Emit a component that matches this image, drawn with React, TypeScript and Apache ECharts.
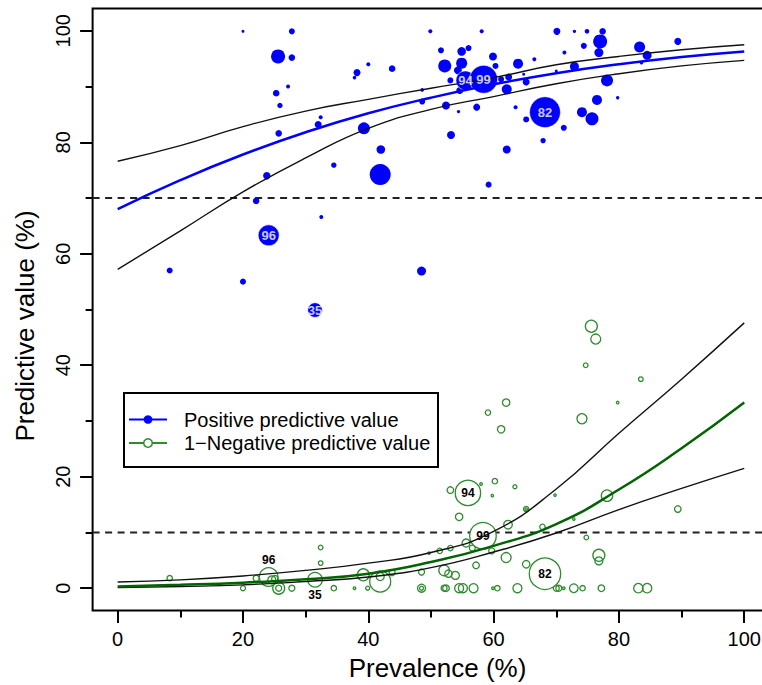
import React, { useEffect, useRef } from "react";
import * as echarts from "echarts";

// ---- Data ----
// Prevalence (%) at which the fitted curves were read
const curveX = [0, 10, 20, 30, 40, 50, 60, 70, 80, 90, 100];
// Positive predictive value fit and its confidence band (%)
const ppvFit = [68.0, 73.2, 77.8, 81.8, 85.2, 88.0, 90.4, 92.4, 94.0, 95.3, 96.3];
const ppvUpper = [76.6, 79.4, 82.8, 85.6, 87.7, 89.7, 91.6, 93.9, 95.4, 96.6, 97.5];
const ppvLower = [57.2, 64.1, 71.1, 77.2, 82.5, 85.9, 88.2, 90.5, 92.3, 93.7, 94.7];
// 1 - Negative predictive value fit and its band (%)
const npvFit = [0.3, 0.6, 1.0, 1.6, 2.6, 4.7, 7.6, 11.5, 17.7, 25.1, 33.3];
const npvUpper = [1.1, 1.5, 2.2, 3.2, 4.5, 6.4, 10.2, 17.8, 27.8, 37.5, 47.6];
const npvLower = [0.1, 0.3, 0.6, 1.2, 2.0, 3.7, 6.5, 9.9, 14.1, 17.9, 21.5];

// Reference lines (%)
const thresholds = [70, 10];

// Study points: [prevalence, PPV, relative study weight]
const ppvPoints: number[][] = [
  [20.0, 99.9, 1.5], [27.8, 99.9, 3], [25.6, 95.4, 7], [27.8, 95.2, 3.3], [40.0, 94.0, 2],
  [38.2, 92.5, 3.5], [37.8, 91.6, 1.8], [27.2, 90.0, 2], [25.3, 88.8, 3.3], [25.9, 86.6, 2.7],
  [32.4, 84.5, 2], [32.0, 83.2, 3.5], [39.3, 82.5, 6], [25.7, 81.6, 3.3], [42.0, 78.7, 4.3],
  [34.5, 75.9, 2.7], [41.9, 74.2, 10.5], [23.8, 74.0, 3.7], [22.1, 69.5, 3.3], [32.5, 66.6, 2],
  [8.3, 57.0, 3], [20.0, 55.0, 3],
  [49.9, 99.9, 2], [58.1, 99.9, 2], [70.1, 99.9, 3.5], [72.9, 99.9, 1.7], [74.9, 99.9, 2.3],
  [77.4, 99.9, 3.3], [77.0, 98.1, 7], [76.8, 96.1, 4.5], [74.4, 97.3, 3], [71.3, 96.1, 2],
  [83.3, 97.1, 5.5], [89.4, 98.1, 3.5], [84.5, 95.6, 4.5], [83.6, 94.3, 1.8],
  [51.6, 96.5, 3], [54.9, 96.3, 4.3], [56.0, 96.9, 3], [59.9, 95.4, 4], [43.8, 93.2, 3.3],
  [52.2, 93.7, 6.5], [54.9, 94.2, 5.5], [54.3, 92.9, 4], [60.3, 93.7, 3], [63.9, 94.1, 5],
  [66.5, 94.9, 2], [64.8, 92.2, 1.5], [48.6, 89.4, 1.8], [48.6, 87.3, 3], [53.1, 91.1, 3],
  [54.6, 89.3, 3.5], [62.4, 91.7, 3.5], [61.2, 91.3, 3], [62.1, 89.5, 5], [65.2, 90.8, 3.5],
  [70.0, 92.8, 1.5], [72.9, 93.6, 4.5], [78.1, 91.1, 6], [76.5, 87.6, 5], [79.8, 88.0, 1.7],
  [74.1, 85.4, 5], [75.7, 84.2, 6.5], [71.2, 82.6, 3], [65.2, 84.1, 3], [63.5, 86.3, 2],
  [57.3, 86.3, 3.5], [54.4, 85.5, 1.7], [52.4, 86.6, 4], [53.2, 81.3, 4], [62.1, 78.7, 4],
  [67.9, 80.3, 2.7], [59.2, 72.4, 3], [48.5, 56.9, 4.5],
];

// Study points: [prevalence, 1-NPV, relative study weight]
const npvPoints: number[][] = [
  [8.3, 1.8, 2.7], [20.0, 0, 2.5], [22.1, 1.8, 3], [25.1, 1.7, 3.3], [24.6, 1.5, 4],
  [25.7, 0, 6], [25.7, 0, 3], [27.8, 0, 3], [32.4, 7.3, 2.3], [32.4, 4.5, 2.3],
  [34.5, 0, 2.7], [37.8, 0, 1.3], [39.9, 0, 2], [39.2, 2.4, 6], [41.9, 1.2, 10.5],
  [41.9, 2.1, 4], [43.8, 2.8, 3], [48.5, 2.9, 3], [48.5, 0, 4], [48.5, 0, 2],
  [75.6, 47.0, 6], [76.3, 44.7, 5], [74.7, 40.0, 2.3], [83.5, 37.5, 2.3], [79.8, 33.3, 1.3],
  [62.0, 33.3, 3.7], [59.1, 31.5, 2.7], [61.2, 28.5, 3.7], [74.1, 30.4, 5], [53.1, 17.6, 3.3],
  [58.0, 18.7, 1.3], [60.2, 19.2, 2.7], [63.4, 18.2, 2], [59.8, 16.6, 1.2], [69.8, 16.7, 1.2],
  [78.1, 16.6, 5.7], [89.4, 14.2, 3.3], [65.2, 14.2, 2.7], [65.2, 14.2, 1.2], [54.5, 12.8, 3.7],
  [62.3, 11.4, 4.3], [67.8, 11.0, 2.7], [72.8, 12.4, 1.2], [74.8, 9.1, 2.3], [55.6, 8.1, 4],
  [49.7, 6.3, 1.2], [51.4, 6.7, 2.7], [53.1, 7.2, 2.7], [56.6, 7.2, 3], [59.7, 6.7, 3],
  [62.0, 5.5, 5], [57.2, 4.1, 3.3], [65.2, 4.3, 3.7], [76.8, 5.9, 6], [76.8, 4.9, 4],
  [52.1, 3.2, 5.3], [52.8, 2.6, 3.7], [53.9, 2.3, 4],
  [52.1, 0, 3], [52.4, 0, 3.3], [54.5, 0, 4.5], [55.1, 0, 4.5], [56.8, 0, 4.5], [59.9, 0, 1.3],
  [60.6, 0, 2.7], [63.8, 0, 4.5], [70.0, 0, 3], [70.4, 0, 3], [71.2, 0, 1.3], [72.8, 0, 4.3],
  [74.2, 0, 2.7], [77.2, 0, 3.3], [83.1, 0, 4.7], [84.5, 0, 4.7],
];

// Labelled studies
const studyLabels = ["96", "35", "94", "99", "82"];
const ppvLabeledX = [24.1, 31.5, 55.5, 58.4, 68.2];
const ppvLabeledY = [63.3, 49.9, 91.1, 91.3, 85.4];
const ppvLabeledW = [10.5, 7.3, 9.5, 14, 15.5];
const npvLabeledX = [24.1, 31.5, 55.9, 58.3, 68.2];
const npvLabeledY = [2.0, 1.5, 17.1, 9.4, 2.6];
const npvLabeledW = [9.3, 7.3, 12.7, 13.3, 15.7];

// Axis ticks
const majorTicks = [0, 20, 40, 60, 80, 100];
const minorTicks = [10, 30, 50, 70, 90];

const FONT = "'Liberation Sans', Arial, Helvetica, sans-serif";
const BLUE = "#0000ff";
const GREEN_PT = "#2e8b2e";
const GREEN_LINE = "#006400";

function makeAxis(dim: "x" | "y", ticks: number[], len: number, labels: boolean) {
  const base: any = {
    type: "value",
    min: -4,
    max: 104,
    position: dim === "x" ? "bottom" : "left",
    axisLine: { show: false, onZero: false },
    splitLine: { show: false },
    axisTick: {
      show: true,
      customValues: ticks,
      length: len,
      lineStyle: { color: "#000", width: 2 },
    },
    axisLabel: labels
      ? {
          show: true,
          customValues: ticks,
          fontSize: 20,
          color: "#000",
          fontFamily: FONT,
          margin: dim === "x" ? 18.5 : 19.5,
          rotate: dim === "x" ? 0 : 90,
        }
      : { show: false },
  };
  return base;
}

export default function App() {
  const ref = useRef<HTMLDivElement>(null);

  useEffect(() => {
    if (!ref.current) return;
    const chart = echarts.init(ref.current, null, { renderer: "svg" });

    const curve = (ys: number[]) => curveX.map((x, i) => [x, ys[i]]);
    const lineSeries = (ys: number[], color: string, width: number) => ({
      type: "line",
      data: curve(ys),
      symbol: "none",
      smooth: 0.5,
      lineStyle: { color, width },
      z: 5,
      silent: true,
      emphasis: { disabled: true },
    });

    const dashed = (y: number) => ({
      type: "line",
      data: [
        [-4, y],
        [104, y],
      ],
      symbol: "none",
      lineStyle: { color: "#222", width: 2, type: [7, 5.5] },
      z: 1,
      silent: true,
      emphasis: { disabled: true },
    });

    const npvLabelPos = ["top", "bottom", "inside", "inside", "inside"];

    const option: any = {
      animation: false,
      backgroundColor: "#fff",
      grid: {
        left: 92.6,
        top: 8.5,
        width: 676.7,
        height: 602,
        show: true,
        borderColor: "#000",
        borderWidth: 2,
        backgroundColor: "transparent",
        containLabel: false,
        outerBoundsMode: "none",
      },
      xAxis: [
        makeAxis("x", majorTicks, 12.5, true),
        makeAxis("x", minorTicks, 7, false),
      ],
      yAxis: [
        makeAxis("y", majorTicks, 12.5, true),
        makeAxis("y", minorTicks, 7, false),
      ],
      series: [
        ...thresholds.map(dashed),
        {
          type: "scatter",
          data: ppvPoints,
          symbolSize: (v: number[]) => v[2] * 2,
          itemStyle: { color: BLUE, opacity: 1 },
          z: 2,
          silent: true,
          emphasis: { disabled: true },
        },
        {
          type: "scatter",
          data: npvPoints,
          symbolSize: (v: number[]) => v[2] * 2,
          itemStyle: {
            color: "transparent",
            borderColor: GREEN_PT,
            borderWidth: 1.3,
            opacity: 1,
          },
          z: 2,
          silent: true,
          emphasis: { disabled: true },
        },
        {
          type: "scatter",
          data: ppvLabeledX.map((x, i) => [x, ppvLabeledY[i], ppvLabeledW[i]]),
          symbolSize: (v: number[]) => v[2] * 2,
          itemStyle: { color: BLUE, borderColor: "#fff", borderWidth: 0.6, opacity: 1 },
          z: 3,
          silent: true,
          emphasis: { disabled: true },
        },
        {
          // labels of the highlighted PPV studies, drawn above all bubbles
          type: "scatter",
          data: ppvLabeledX.map((x, i) => ({
            value: [x, ppvLabeledY[i]],
            name: studyLabels[i],
          })),
          symbolSize: 0,
          itemStyle: { color: "transparent" },
          label: {
            show: true,
            position: "inside",
            formatter: "{b}",
            color: "#fff",
            fontSize: 13,
            fontWeight: "bold",
            fontFamily: FONT,
          },
          z: 6,
          silent: true,
          emphasis: { disabled: true },
        },
        {
          type: "scatter",
          data: npvLabeledX.map((x, i) => ({
            value: [x, npvLabeledY[i], npvLabeledW[i]],
            name: studyLabels[i],
            itemStyle: {
              color: npvLabelPos[i] === "inside" ? "#fff" : "transparent",
            },
            label: { position: npvLabelPos[i], distance: 1 },
          })),
          symbolSize: (v: number[]) => v[2] * 2,
          itemStyle: { borderColor: GREEN_PT, borderWidth: 1.3, opacity: 1 },
          label: {
            show: true,
            formatter: "{b}",
            color: "#000",
            fontSize: 12,
            fontWeight: "bold",
            fontFamily: FONT,
          },
          z: 3,
          silent: true,
          emphasis: { disabled: true },
        },
        lineSeries(ppvUpper, "#111", 1.4),
        lineSeries(ppvLower, "#111", 1.4),
        lineSeries(ppvFit, BLUE, 2.5),
        lineSeries(npvUpper, "#111", 1.4),
        lineSeries(npvLower, "#111", 1.4),
        lineSeries(npvFit, GREEN_LINE, 2.5),
      ],
      graphic: [
        {
          type: "text",
          x: 437.5,
          y: 668,
          style: {
            text: "Prevalence (%)",
            fontSize: 26,
            fontFamily: FONT,
            fill: "#000",
            align: "center",
            verticalAlign: "middle",
          },
          z: 100,
        },
        {
          type: "text",
          x: 25,
          y: 326,
          rotation: Math.PI / 2,
          style: {
            text: "Predictive value (%)",
            fontSize: 26,
            fontFamily: FONT,
            fill: "#000",
            align: "center",
            verticalAlign: "middle",
          },
          z: 100,
        },
        {
          type: "group",
          z: 100,
          children: [
            {
              type: "rect",
              shape: { x: 124, y: 393, width: 314, height: 74 },
              style: { fill: "#fff", stroke: "#000", lineWidth: 2 },
            },
            {
              type: "line",
              shape: { x1: 129, y1: 419.5, x2: 167, y2: 419.5 },
              style: { stroke: BLUE, lineWidth: 2 },
            },
            {
              type: "circle",
              shape: { cx: 148, cy: 419.5, r: 4.3 },
              style: { fill: BLUE },
            },
            {
              type: "text",
              x: 184,
              y: 419.5,
              style: {
                text: "Positive predictive value",
                fontSize: 20,
                fontFamily: FONT,
                fill: "#000",
                align: "left",
                verticalAlign: "middle",
              },
            },
            {
              type: "line",
              shape: { x1: 129, y1: 443, x2: 167, y2: 443 },
              style: { stroke: GREEN_PT, lineWidth: 2 },
            },
            {
              type: "circle",
              shape: { cx: 148, cy: 443, r: 4.3 },
              style: { fill: "#fff", stroke: GREEN_PT, lineWidth: 1.5 },
            },
            {
              type: "text",
              x: 184,
              y: 443,
              style: {
                text: "1\u2212Negative predictive value",
                fontSize: 20,
                fontFamily: FONT,
                fill: "#000",
                align: "left",
                verticalAlign: "middle",
              },
            },
          ],
        },
      ],
    };

    chart.setOption(option);
    return () => {
      chart.dispose();
    };
  }, []);

  return (
    <div
      style={{
        position: "absolute",
        left: 0,
        top: 0,
        width: 762,
        height: 685,
        overflow: "hidden",
        background: "#fff",
      }}
    >
      <div ref={ref} style={{ width: 800, height: 685 }} />
    </div>
  );
}
